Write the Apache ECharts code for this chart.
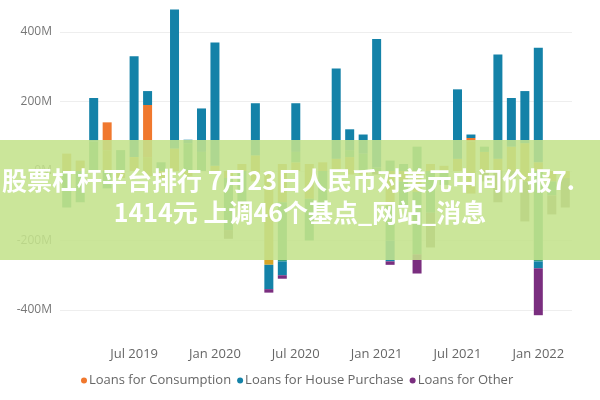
<!DOCTYPE html>
<html><head><meta charset="utf-8">
<script src="https://cdn.jsdelivr.net/npm/echarts@6/dist/echarts.min.js"></script>
<style>html,body{margin:0;padding:0;background:#fff}#c{width:600px;height:400px}</style>
</head><body><div id="c"></div>
<script>
const months = [];
(function(){const m=['Jan','Feb','Mar','Apr','May','Jun','Jul','Aug','Sep','Oct','Nov','Dec'];let y=2019,k=1;for(let i=0;i<38;i++){months.push(m[k]+' '+y);k++;if(k===12){k=0;y++;}}})();
const categories = months;
// values in millions, positive part / negative part per category
const goldUp   =[50,30,0,60,0,40,40,0,65,0,0,15,0,20,45,0,20,25,20,25,35,40,0,0,0,0,0,20,15,35,85,55,35,70,80,25,0,0];
const goldDown =[0,0,0,0,-20,0,-15,-20,0,-15,0,0,-20,0,-30,-270,-90,0,-80,0,0,-10,-10,0,-100,-30,-60,0,0,0,-65,0,0,0,-30,0,-30,-20];
const greenUp  =[0,0,85,0,60,0,0,25,0,80,55,0,0,0,0,0,0,30,0,0,0,20,50,10,30,20,70,0,0,0,0,15,0,0,0,0,0,0];
const greenDown=[-105,-90,0,-50,0,0,0,0,0,0,0,0,-150,-90,0,0,-170,0,-120,-105,0,0,0,0,-100,-70,-180,-120,-40,0,0,0,0,0,0,-260,-40,0];
const greyDown =[0,0,0,0,0,0,0,0,0,0,0,0,-25,-15,0,0,0,0,0,0,0,0,0,-10,0,0,0,-100,0,0,0,-30,-90,-20,-115,0,-55,-85];
const consumption=[0,0,0,80,0,0,150,0,0,0,0,0,0,0,0,0,0,0,0,0,0,0,0,0,0,0,0,0,0,0,10,0,0,0,0,0,0,0];
const houseUp  =[0,0,125,0,0,290,40,0,400,10,125,355,0,0,150,0,0,140,0,0,260,60,55,370,0,0,0,0,0,200,10,0,300,140,150,330,0,0];
const houseDown=[0,0,0,0,0,0,0,0,0,0,0,0,0,0,0,-70,-40,0,0,0,0,0,0,0,-60,0,0,0,0,0,0,0,0,0,0,-20,0,0];
const otherDown=[0,0,0,0,0,0,0,0,0,0,0,0,0,0,0,-10,-10,0,0,0,0,0,0,0,-10,0,-55,0,0,0,0,0,0,0,0,-135,0,0];
const yTicks=[-400,-200,0,200,400];

const C={gold:'#d6a629',green:'#3aa27a',grey:'#8b8562',orange:'#f0782e',blue:'#1482a8',purple:'#7a2e7f'};
function s(name,data,color){return {name,type:'bar',stack:'t',data,barWidth:9,clip:false,itemStyle:{color},emphasis:{disabled:true}};}
const chart=echarts.init(document.getElementById('c'));
chart.setOption({
  animation:false,
  grid:{left:60,right:28,top:32,bottom:90},
  legend:{data:['Loans for Consumption','Loans for House Purchase','Loans for Other'],bottom:8,left:76,itemWidth:6,itemHeight:6,icon:'circle',itemGap:6,textStyle:{color:'#666',fontSize:13,fontFamily:'Open Sans',padding:[0,0,0,-3]}},
  xAxis:{type:'category',data:categories,axisLine:{show:false},axisTick:{show:false},
    axisLabel:{color:'#666',fontSize:13,margin:38,fontFamily:'Open Sans',interval:function(i,v){return v.startsWith('Jan')||v.startsWith('Jul');}}},
  yAxis:{type:'value',min:-400,max:400,interval:200,
    axisLabel:{color:'#777',fontSize:12,margin:8,fontFamily:'Open Sans',formatter:v=>yTicks.includes(v)?v+'M':''},
    splitLine:{lineStyle:{color:'#eee'}}},
  series:[
    s('gold',goldUp,C.gold),s('goldN',goldDown,C.gold),
    s('green',greenUp,C.green),s('greenN',greenDown,C.green),
    s('grey',greyDown,C.grey),
    s('Loans for Consumption',consumption,C.orange),
    s('Loans for House Purchase',houseUp,C.blue),s('houseN',houseDown,C.blue),
    s('Loans for Other',otherDown,C.purple)
  ],
  graphic:[
    {type:'rect',left:0,top:140,shape:{width:600,height:120},style:{fill:'rgba(196,226,140,0.88)'},z:100},
    {type:'text',left:2,top:168,style:{text:'股票杠杆平台排行 7月23日人民币对美元中间价报7.',fill:'#fff',font:'bold 25px "Noto Sans CJK SC"'},z:101},
    {type:'text',left:'center',top:200,style:{text:'1414元 上调46个基点_网站_消息',fill:'#fff',font:'bold 25px "Noto Sans CJK SC"'},z:101}
  ]
});
</script></body></html>
